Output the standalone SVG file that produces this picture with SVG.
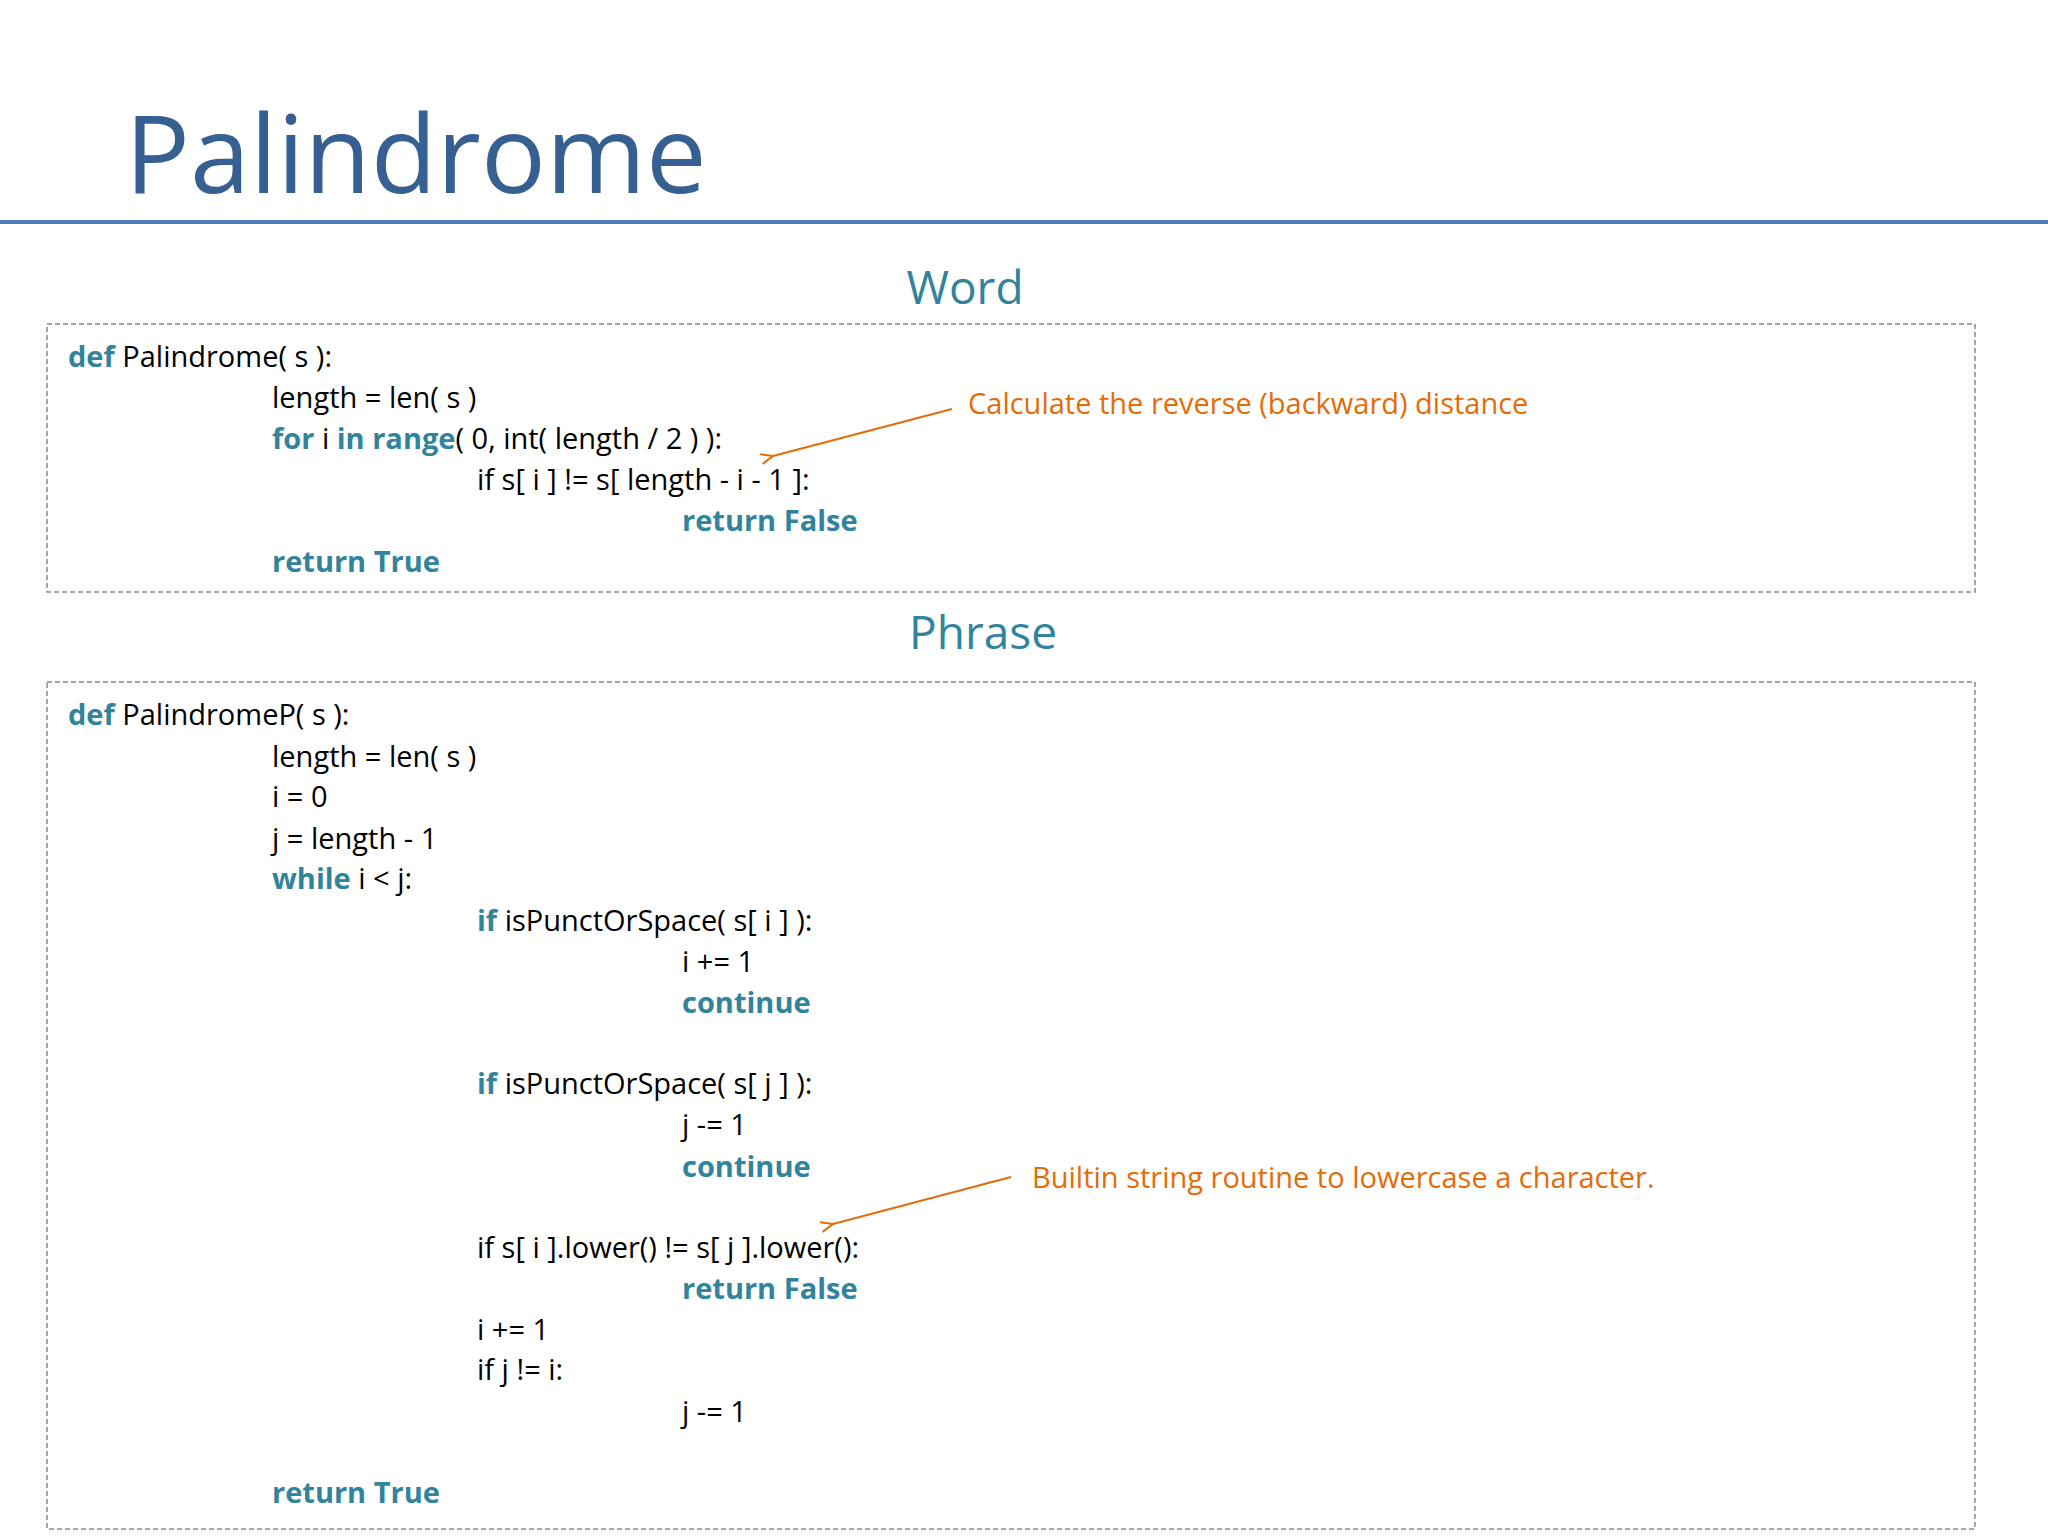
<svg xmlns="http://www.w3.org/2000/svg" width="2048" height="1536" viewBox="0 0 2048 1536">
<style>
text{font-family:"Open Sans","Liberation Sans",sans-serif}
.c{font-size:29px;fill:#000}
.k{fill:#31849b;font-weight:bold}
.h{font-size:46px;fill:#31849b;text-anchor:middle}
.a{font-size:29px;fill:#e36c09}
.box{fill:none;stroke:#888;stroke-width:1.5;stroke-dasharray:5,3}
</style>
<defs><marker id="ar" markerWidth="14" markerHeight="12" refX="1" refY="6" orient="auto-start-reverse" markerUnits="userSpaceOnUse"><path d="M13,1 L1,6 L13,11" fill="none" stroke="#e36c09" stroke-width="2"/></marker></defs>
<rect width="2048" height="1536" fill="#fff"/>
<g id="title"><text x="125" y="193" font-size="108" fill="#376092">Palindrome</text>
<line x1="0" y1="222" x2="2048" y2="222" stroke="#4a7ebb" stroke-width="4"/></g>
<g id="word">
<text class="h" x="965" y="304">Word</text>
<rect class="box" x="47" y="324" width="1928" height="268"/>
<text class="c" x="68" y="367"><tspan class="k">def</tspan> Palindrome( s ):</text>
<text class="c" x="272" y="408">length = len( s )</text>
<text class="c" x="272" y="449"><tspan class="k">for</tspan> i <tspan class="k">in range</tspan>( 0, int( length / 2 ) ):</text>
<text class="c" x="477" y="490">if s[ i ] != s[ length - i - 1 ]:</text>
<text class="c k" x="682" y="531">return False</text>
<text class="c k" x="272" y="572">return True</text>
</g>
<g id="phrase">
<text class="h" x="983" y="649">Phrase</text>
<rect class="box" x="47" y="682" width="1928" height="847"/>
<text class="c" x="68" y="725"><tspan class="k">def</tspan> PalindromeP( s ):</text>
<text class="c" x="272" y="767">length = len( s )</text>
<text class="c" x="272" y="807">i = 0</text>
<text class="c" x="272" y="849">j = length - 1</text>
<text class="c" x="272" y="889"><tspan class="k">while</tspan> i &lt; j:</text>
<text class="c" x="477" y="931"><tspan class="k">if</tspan> isPunctOrSpace( s[ i ] ):</text>
<text class="c" x="682" y="972">i += 1</text>
<text class="c k" x="682" y="1013">continue</text>
<text class="c" x="477" y="1094"><tspan class="k">if</tspan> isPunctOrSpace( s[ j ] ):</text>
<text class="c" x="682" y="1135">j -= 1</text>
<text class="c k" x="682" y="1177">continue</text>
<text class="c" x="477" y="1258">if s[ i ].lower() != s[ j ].lower():</text>
<text class="c k" x="682" y="1299">return False</text>
<text class="c" x="477" y="1340">i += 1</text>
<text class="c" x="477" y="1380">if j != i:</text>
<text class="c" x="682" y="1422">j -= 1</text>
<text class="c k" x="272" y="1503">return True</text>
</g>
<g id="note1"><text class="a" x="968" y="414">Calculate the reverse (backward) distance</text></g>
<g id="note2"><text class="a" x="1032" y="1188">Builtin string routine to lowercase a character.</text></g>
<g id="connectors" stroke="#e36c09" stroke-width="2" fill="none">
<line x1="952" y1="409" x2="773" y2="456" marker-end="url(#ar)"/>
<line x1="1011" y1="1177" x2="833" y2="1224" marker-end="url(#ar)"/>
</g>
</svg>
